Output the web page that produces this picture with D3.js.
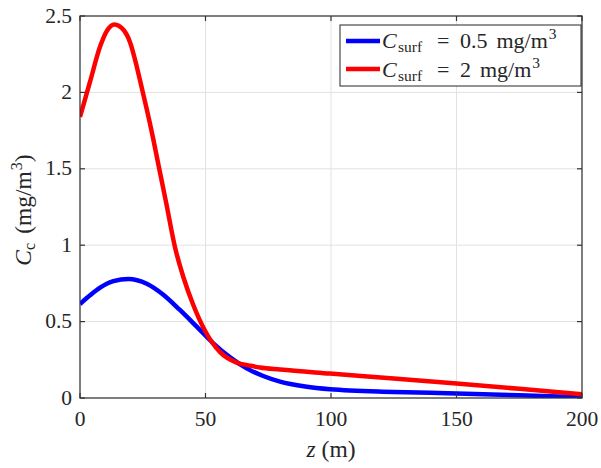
<!DOCTYPE html>
<html><head><meta charset="utf-8">
<script src="https://cdn.jsdelivr.net/npm/d3@7"></script>
<style>body{margin:0;background:#fff}svg text{font-family:"Liberation Serif","DejaVu Serif",serif;fill:#262626}</style>
</head><body>
<svg id="c" width="601" height="468"></svg>
<script>
const xTicks=[0,50,100,150,200];
const yTicks=[0,0.5,1,1.5,2,2.5];
const yTickLabels=["0","0.5","1","1.5","2","2.5"];
const zBlue=[0,4,8,13.3,19.3,26.6,33.2,39.8,46.5,53.1,59.8,66.4,73,79.7,89.7,99.6,125,150,175,200];
const cBlue=[0.615,0.672,0.722,0.765,0.779,0.748,0.676,0.576,0.467,0.358,0.266,0.194,0.144,0.107,0.075,0.057,0.04,0.03,0.018,0.005];
const zRed=[0,4,8,10.6,13.7,17.3,19.9,22.6,24.6,26.6,29,31.2,34.3,37.8,41.2,45.1,49.8,55.8,62.4,67.7,71.7,79.7,99.6,125,150,175,200];
const cRed=[1.84,2.07,2.30,2.40,2.445,2.41,2.33,2.17,2.03,1.89,1.71,1.53,1.28,0.99,0.79,0.61,0.44,0.30,0.232,0.212,0.199,0.186,0.160,0.128,0.095,0.06,0.024];

const svg=d3.select("#c");
const L=80,R=582,T=16,B=398;
const x=d3.scaleLinear().domain([0,200]).range([L,R]);
const y=d3.scaleLinear().domain([0,2.5]).range([B,T]);

// grid
const g=svg.append("g");
g.selectAll(".gx").data(xTicks).enter().append("line").attr("x1",d=>x(d)).attr("x2",d=>x(d)).attr("y1",T).attr("y2",B).attr("stroke","#e2e2e2").attr("stroke-width",1);
g.selectAll(".gy").data(yTicks).enter().append("line").attr("y1",d=>y(d)).attr("y2",d=>y(d)).attr("x1",L).attr("x2",R).attr("stroke","#e2e2e2").attr("stroke-width",1);

// lines
const line=d3.line().curve(d3.curveMonotoneX);
svg.append("clipPath").attr("id","cp").append("rect").attr("x",L).attr("y",T-3).attr("width",R-L).attr("height",B-T+3);
svg.append("path").attr("d",line(zBlue.map((z,i)=>[x(z),y(cBlue[i])]))).attr("fill","none").attr("stroke","#0000ff").attr("stroke-width",4.5).attr("clip-path","url(#cp)");
svg.append("path").attr("d",line(zRed.map((z,i)=>[x(z),y(cRed[i])]))).attr("fill","none").attr("stroke","#ff0000").attr("stroke-width",4.5).attr("clip-path","url(#cp)");

// axes box
const ax=svg.append("g").attr("stroke","#333").attr("stroke-width",1.2);
ax.append("rect").attr("x",L).attr("y",T).attr("width",R-L).attr("height",B-T).attr("fill","none");
xTicks.forEach(t=>{ax.append("line").attr("x1",x(t)).attr("x2",x(t)).attr("y1",B).attr("y2",B-5);ax.append("line").attr("x1",x(t)).attr("x2",x(t)).attr("y1",T).attr("y2",T+5);});
yTicks.forEach(t=>{ax.append("line").attr("y1",y(t)).attr("y2",y(t)).attr("x1",L).attr("x2",L+5);ax.append("line").attr("y1",y(t)).attr("y2",y(t)).attr("x1",R).attr("x2",R-5);});

// tick labels
svg.selectAll(".xl").data(xTicks).enter().append("text").attr("x",d=>x(d)).attr("y",426).attr("text-anchor","middle").attr("font-size",21.5).text(d=>d);
svg.selectAll(".yl").data(yTicks).enter().append("text").attr("x",72).attr("y",d=>y(d)+6.5).attr("text-anchor","end").attr("font-size",21.5).text((d,i)=>yTickLabels[i]);

// axis labels
const xl=svg.append("text").attr("x",x(100)).attr("y",457).attr("text-anchor","middle").attr("font-size",23.5);
xl.append("tspan").attr("font-style","italic").text("z");
xl.append("tspan").attr("dx",6).text("(m)");
const yl=svg.append("text").attr("transform",`translate(31,210) rotate(-90)`).attr("text-anchor","middle").attr("font-size",23.5);
yl.append("tspan").attr("font-style","italic").text("C");
yl.append("tspan").attr("font-size",16).attr("dy",4).text("c");
yl.append("tspan").attr("dy",-4).attr("dx",9).text("(mg/m");
yl.append("tspan").attr("font-size",16).attr("dy",-9).attr("dx",1).text("3");
yl.append("tspan").attr("dy",9).text(")");

// legend
const leg=svg.append("g");
leg.append("rect").attr("x",340).attr("y",25).attr("width",241).attr("height",61).attr("fill","#fff").attr("stroke","#262626").attr("stroke-width",1);
const items=[{c:"#0000ff",v:"0.5",ly:41,by:48},{c:"#ff0000",v:"2",ly:69,by:77}];
items.forEach(it=>{
  leg.append("line").attr("x1",346).attr("x2",380).attr("y1",it.ly).attr("y2",it.ly).attr("stroke",it.c).attr("stroke-width",4.5);
  const t=leg.append("text").attr("y",it.by).attr("font-size",22);
  t.append("tspan").attr("x",382).attr("font-style","italic").text("C");
  t.append("tspan").attr("x",398).attr("font-size",15.5).attr("dy",4).text("surf");
  t.append("tspan").attr("x",437).attr("dy",-4).text("=");
  t.append("tspan").attr("x",460).text(it.v);
  t.append("tspan").attr("dx",9).text("mg/m");
  t.append("tspan").attr("dx",1).attr("font-size",15.5).attr("dy",-9).text("3");
});
</script>
</body></html>
